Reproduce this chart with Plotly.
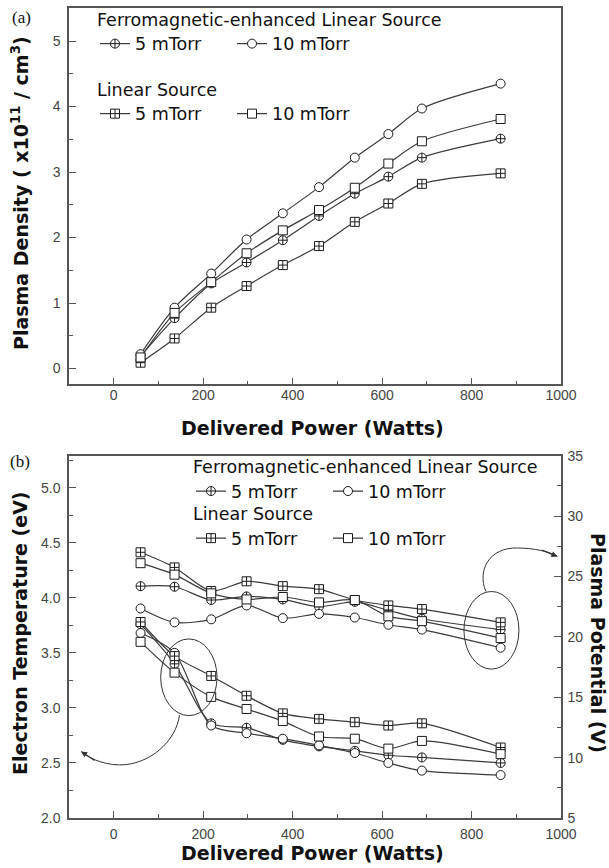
import plotly.graph_objects as go

# ---------------- data ----------------
power_w = [60, 136, 218, 297, 378, 459, 539, 614, 689, 865]

# (a) plasma density, x10^11 / cm^3
dens_fe_5 = [0.19, 0.77, 1.30, 1.62, 1.96, 2.33, 2.67, 2.93, 3.22, 3.51]
dens_fe_10 = [0.22, 0.93, 1.45, 1.97, 2.37, 2.77, 3.22, 3.58, 3.97, 4.35]
dens_ls_5 = [0.09, 0.46, 0.93, 1.26, 1.58, 1.87, 2.24, 2.52, 2.82, 2.98]
dens_ls_10 = [0.17, 0.85, 1.32, 1.76, 2.11, 2.42, 2.76, 3.13, 3.47, 3.81]

# (b) electron temperature, eV (left axis)
te_fe_5 = [3.76, 3.40, 2.86, 2.82, 2.71, 2.65, 2.61, 2.57, 2.55, 2.50]
te_fe_10 = [3.68, 3.50, 2.84, 2.77, 2.72, 2.66, 2.59, 2.50, 2.43, 2.39]
te_ls_5 = [3.78, 3.47, 3.29, 3.11, 2.95, 2.90, 2.87, 2.84, 2.86, 2.64]
te_ls_10 = [3.60, 3.32, 3.10, 2.99, 2.88, 2.74, 2.72, 2.63, 2.70, 2.58]

# (b) plasma potential, V (right axis)
vp_fe_5 = [24.2, 24.15, 23.05, 23.35, 23.1, 22.5, 22.9, 22.2, 21.5, 20.6]
vp_fe_10 = [22.35, 21.2, 21.45, 22.6, 21.55, 21.9, 21.6, 21.0, 20.6, 19.1]
vp_ls_5 = [27.0, 25.75, 23.8, 24.6, 24.2, 23.95, 23.05, 22.6, 22.3, 21.2]
vp_ls_10 = [26.1, 25.15, 23.6, 23.1, 23.3, 22.85, 23.05, 21.7, 21.3, 19.9]

series_names = ["5 mTorr", "10 mTorr"]
group_titles = ["Ferromagnetic-enhanced Linear Source", "Linear Source"]
x_ticks = [0, 200, 400, 600, 800, 1000]

# ---------------- geometry helpers ----------------
W, H = 609, 868
ML, MR, MT, MB = 69, 48, 8, 50
PW = W - ML - MR
PH = H - MT - MB


def px(x):
    return (x - ML) / PW


def py(y):
    return (H - MB - y) / PH


TOP_DOM = [py(384.3), py(8.3)]
BOT_DOM = [py(818), py(455.7)]

LINE_C = "#3a3a3a"
MK_LINE = "#1a1a1a"
AX_C = "#555555"
TICK_FONT = dict(family="Liberation Sans, Arial, sans-serif", size=14, color="#444444")
TITLE_FONT = dict(family="DejaVu Sans, sans-serif", size=19, color="#111111", weight="bold")
LEG_FONT = dict(family="DejaVu Sans, sans-serif", size=17.5, color="#111111")

styles = {
    ("fe", 5): "circle-cross",
    ("fe", 10): "circle",
    ("ls", 5): "square-cross",
    ("ls", 10): "square",
}

fig = go.Figure()


def add(xv, yv, sym, xa, ya, name, legend, show):
    fig.add_trace(go.Scatter(
        x=xv, y=yv, mode="lines+markers", name=name,
        xaxis=xa, yaxis=ya,
        line=dict(color=LINE_C, width=1.2, shape="spline", smoothing=0.8),
        marker=dict(symbol=sym, size=9, color="white",
                    line=dict(color=MK_LINE, width=1)),
        legend=legend, showlegend=show,
    ))


# panel (a)
add(power_w, dens_fe_5, styles[("fe", 5)], "x", "y", series_names[0], "legend", True)
add(power_w, dens_fe_10, styles[("fe", 10)], "x", "y", series_names[1], "legend", True)
add(power_w, dens_ls_5, styles[("ls", 5)], "x", "y", series_names[0], "legend2", True)
add(power_w, dens_ls_10, styles[("ls", 10)], "x", "y", series_names[1], "legend2", True)

# panel (b) - electron temperature
add(power_w, te_fe_5, styles[("fe", 5)], "x2", "y2", series_names[0], "legend3", True)
add(power_w, te_fe_10, styles[("fe", 10)], "x2", "y2", series_names[1], "legend3", True)
add(power_w, te_ls_5, styles[("ls", 5)], "x2", "y2", series_names[0], "legend4", True)
add(power_w, te_ls_10, styles[("ls", 10)], "x2", "y2", series_names[1], "legend4", True)
# panel (b) - plasma potential
add(power_w, vp_fe_5, styles[("fe", 5)], "x2", "y3", series_names[0], "legend3", False)
add(power_w, vp_fe_10, styles[("fe", 10)], "x2", "y3", series_names[1], "legend3", False)
add(power_w, vp_ls_5, styles[("ls", 5)], "x2", "y3", series_names[0], "legend4", False)
add(power_w, vp_ls_10, styles[("ls", 10)], "x2", "y3", series_names[1], "legend4", False)

common_ax = dict(
    showline=True, linecolor=AX_C, linewidth=1.5, mirror=True,
    ticks="inside", ticklen=7, tickwidth=1.2, tickcolor=AX_C,
    showgrid=False, zeroline=False, tickfont=TICK_FONT,
)

fig.update_layout(
    width=W, height=H,
    margin=dict(l=ML, r=MR, t=MT, b=MB, autoexpand=False),
    paper_bgcolor="white", plot_bgcolor="white",
    xaxis=dict(domain=[0, 1], anchor="y", range=[-100, 1000], tickvals=x_ticks,
               minor=dict(dtick=100, ticks="inside", ticklen=4, tickcolor=AX_C),
               ticklabelstandoff=-3, **common_ax),
    yaxis=dict(domain=TOP_DOM, anchor="x", range=[-0.24, 5.5], dtick=1, tick0=0,
               minor=dict(dtick=0.5, ticks="inside", ticklen=4, tickcolor=AX_C),
               ticklabelstandoff=4, **common_ax),
    xaxis2=dict(domain=[0, 1], anchor="y2", range=[-100, 1000], tickvals=x_ticks,
                minor=dict(dtick=100, ticks="inside", ticklen=4, tickcolor=AX_C),
                ticklabelstandoff=2, **common_ax),
    yaxis2=dict(domain=BOT_DOM, anchor="x2", range=[2.0, 5.29], dtick=0.5, tick0=2,
                tickformat=".1f",
                minor=dict(dtick=0.25, ticks="inside", ticklen=4, tickcolor=AX_C),
                ticklabelstandoff=4, **common_ax),
    yaxis3=dict(overlaying="y2", anchor="x2", side="right", range=[5, 35], dtick=5,
                minor=dict(dtick=2.5, ticks="inside", ticklen=4, tickcolor=AX_C),
                ticklabelstandoff=2,
                showline=True, linecolor=AX_C, linewidth=1.5,
                ticks="inside", ticklen=7, tickwidth=1.2, tickcolor=AX_C,
                showgrid=False, zeroline=False, tickfont=TICK_FONT),
    showlegend=True,
)

leg_common = dict(orientation="h", xanchor="left", yanchor="top",
                  font=LEG_FONT, bgcolor="rgba(0,0,0,0)", borderwidth=0,
                  entrywidthmode="pixels", entrywidth=92, itemclick=False)

fig.update_layout(
    legend=dict(x=px(95), y=py(3), title=dict(text=group_titles[0], side="top", font=LEG_FONT), **leg_common),
    legend2=dict(x=px(95), y=py(73), title=dict(text=group_titles[1], side="top", font=LEG_FONT), **leg_common),
    legend3=dict(x=px(191), y=py(450.4), title=dict(text=group_titles[0], side="top", font=LEG_FONT), **leg_common),
    legend4=dict(x=px(191), y=py(497.5), title=dict(text=group_titles[1], side="top", font=LEG_FONT), **leg_common),
)

annotations = [
    dict(text="Delivered Power (Watts)", x=px(312), y=py(428), xref="paper", yref="paper",
         showarrow=False, font=TITLE_FONT, xanchor="center", yanchor="middle"),
    dict(text="Delivered Power (Watts)", x=px(312), y=py(853), xref="paper", yref="paper",
         showarrow=False, font=TITLE_FONT, xanchor="center", yanchor="middle"),
    dict(text="Plasma Density ( x10<sup>11</sup> / cm<sup>3</sup>)", x=px(20), y=py(193),
         xref="paper", yref="paper", showarrow=False, font=TITLE_FONT, textangle=-90,
         xanchor="center", yanchor="middle"),
    dict(text="Electron Temperature (eV)", x=px(20), y=py(633),
         xref="paper", yref="paper", showarrow=False, font=TITLE_FONT, textangle=-90,
         xanchor="center", yanchor="middle"),
    dict(text="Plasma Potential (V)", x=px(598), y=py(643),
         xref="paper", yref="paper", showarrow=False, font=TITLE_FONT, textangle=90,
         xanchor="center", yanchor="middle"),
    dict(text="(a)", x=px(21.5), y=py(17.5), xref="paper", yref="paper", showarrow=False,
         font=dict(family="Liberation Serif, serif", size=17, color="#111111"),
         xanchor="center", yanchor="middle"),
    dict(text="(b)", x=px(19.5), y=py(461), xref="paper", yref="paper", showarrow=False,
         font=dict(family="Liberation Serif, serif", size=17, color="#111111"),
         xanchor="center", yanchor="middle"),
    # arrowheads of the two callout curves
    dict(text="", x=-73, y=2.604, xref="x2", yref="y2", ax=15, ay=10, showarrow=True,
         arrowhead=2, arrowsize=1, arrowwidth=1.2, arrowcolor="#333333", standoff=0),
    dict(text="", x=992, y=4.375, xref="x2", yref="y2", ax=-17, ay=-7, showarrow=True,
         arrowhead=2, arrowsize=1, arrowwidth=1.2, arrowcolor="#333333", standoff=0),
]
fig.update_layout(annotations=annotations)

shapes = [
    dict(type="circle", xref="x2", yref="y2", x0=105, x1=231, y0=2.93, y1=3.626,
         line=dict(color="#333333", width=1)),
    dict(type="circle", xref="x2", yref="y2", x0=783, x1=906, y0=3.352, y1=4.057,
         line=dict(color="#333333", width=1)),
    dict(type="path", xref="x2", yref="y2",
         path="M 147,2.935 C 140,2.70 80,2.48 13,2.482 C -30,2.485 -60,2.56 -73,2.604",
         line=dict(color="#333333", width=1)),
    dict(type="path", xref="x2", yref="y2",
         path="M 832,4.057 C 812,4.25 840,4.46 903,4.452 C 940,4.45 975,4.42 992,4.375",
         line=dict(color="#333333", width=1)),
]
fig.update_layout(shapes=shapes)

fig.write_html(
    "out.html",
    config={"displayModeBar": False},
    post_script="document.body.style.margin='0px';document.body.style.overflow='hidden';",
)
